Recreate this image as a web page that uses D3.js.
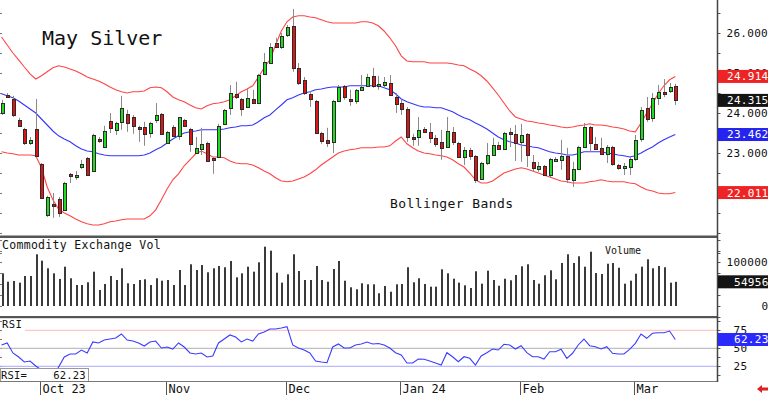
<!DOCTYPE html>
<html><head><meta charset="utf-8">
<script src="https://cdn.jsdelivr.net/npm/d3@7"></script>
<style>
html,body{margin:0;padding:0;background:#fff;overflow:hidden}
svg{display:block}
text{font-family:"DejaVu Sans Mono",monospace;fill:#111}
</style></head><body>
<svg id="c" width="768" height="395"></svg>
<script>
// ---------- DATA ----------
const open = [
24.00,24.45,24.35,23.83,23.60,23.25,23.60,22.73,21.45,21.73,
21.85,21.58,22.48,22.43,22.65,22.88,22.55,23.35,23.15,23.80,
23.58,23.78,23.98,23.90,23.65,23.65,23.50,23.83,23.98,23.25,
23.65,23.43,23.83,23.60,23.00,23.10,23.25,22.88,22.90,23.73,
24.13,24.48,24.35,24.15,24.35,24.25,24.98,25.25,25.75,25.65,
25.95,26.18,25.13,24.83,24.48,24.30,23.50,23.33,23.28,24.30,
24.68,24.35,24.30,24.58,24.68,24.93,24.70,24.70,24.75,24.40,
24.25,24.10,23.40,23.40,23.60,23.53,23.38,23.28,23.15,23.53,
23.25,22.90,23.08,22.93,22.35,22.75,22.95,23.20,23.10,23.53,
23.48,23.28,23.48,22.78,22.60,22.68,22.45,22.83,22.83,22.93,
22.33,22.60,23.15,23.65,23.23,23.13,22.98,23.15,22.70,22.63,
22.65,22.85,23.35,24.13,23.88,24.38,24.53,24.55,24.68];
const high = [
24.33,24.50,24.43,23.88,23.63,23.40,24.35,22.75,21.93,22.00,
21.90,22.28,22.50,22.55,22.83,22.90,23.48,23.40,23.68,24.00,
23.78,24.43,24.08,23.95,23.68,23.78,23.78,24.25,24.00,23.55,
23.70,23.90,23.85,23.63,23.40,23.63,23.28,22.90,23.73,24.10,
24.70,24.78,24.38,24.60,24.58,24.98,25.50,25.75,25.88,26.00,
26.20,26.60,25.25,24.90,24.55,24.33,23.53,23.63,24.33,24.70,
24.70,24.58,24.60,24.95,24.98,25.13,24.93,24.90,24.95,24.50,
24.33,24.15,23.48,23.90,23.65,23.75,23.45,23.58,23.90,23.65,
23.28,23.15,23.13,22.95,22.78,23.25,23.38,23.28,23.53,23.63,
23.70,23.73,23.50,22.95,22.78,22.70,22.88,22.90,23.33,23.13,
22.78,23.18,23.75,23.68,23.40,23.38,23.20,23.18,22.73,22.75,
22.90,23.45,24.15,24.40,24.50,24.70,24.85,24.75,24.73];
const low = [
23.95,24.38,23.90,23.65,23.20,23.20,22.88,21.85,21.40,21.38,
21.40,21.55,22.25,22.33,22.60,22.43,22.55,23.25,23.13,23.50,
23.45,23.58,23.53,23.48,23.28,23.18,23.38,23.75,23.48,23.23,
23.40,23.33,23.65,23.03,23.00,22.95,22.78,22.48,22.88,23.70,
23.95,24.35,23.93,24.13,24.23,24.23,24.95,25.23,25.63,25.60,
25.90,25.03,24.70,24.45,24.15,23.48,23.23,23.15,23.00,24.28,
24.33,24.18,24.23,24.55,24.65,24.63,24.58,24.63,24.43,24.00,
23.95,23.28,23.18,23.18,23.50,23.25,23.15,22.83,23.13,23.20,
22.88,22.70,22.83,22.25,22.33,22.70,22.93,23.08,23.08,23.15,
22.80,22.78,22.65,22.53,22.53,22.43,22.38,22.83,22.58,22.25,
22.15,22.58,23.13,23.03,23.08,22.95,22.75,22.68,22.58,22.45,
22.45,22.80,23.28,23.78,23.78,24.20,24.40,24.50,24.20];
const close = [
24.25,24.40,23.95,23.68,23.25,23.33,22.93,21.88,21.90,21.68,
21.50,22.25,22.45,22.45,22.73,22.45,23.45,23.30,23.55,23.63,
23.75,24.13,23.75,23.68,23.63,23.48,23.75,23.95,23.48,23.53,
23.43,23.90,23.68,23.23,23.13,23.23,22.80,22.83,23.68,24.08,
24.50,24.40,24.10,24.38,24.25,24.95,25.28,25.65,25.65,25.93,
26.15,25.13,24.75,24.50,24.35,23.50,23.30,23.25,24.30,24.65,
24.40,24.33,24.58,24.65,24.90,24.68,24.73,24.78,24.45,24.23,
24.10,23.40,23.38,23.58,23.53,23.38,23.23,23.13,23.55,23.28,
22.90,23.08,22.93,22.33,22.75,22.95,23.20,23.10,23.50,23.48,
23.25,23.45,22.95,22.63,22.68,22.45,22.85,22.85,22.93,22.35,
22.60,23.15,23.65,23.25,23.10,22.98,23.15,22.73,22.63,22.68,
22.85,23.33,24.08,23.85,24.38,24.53,24.50,24.65,24.315];
const bandUpper = [
25.90,25.70,25.50,25.33,25.15,24.98,24.85,24.93,25.03,25.13,
25.18,25.15,25.10,25.05,24.98,24.90,24.85,24.80,24.73,24.65,
24.58,24.53,24.50,24.53,24.53,24.55,24.63,24.65,24.63,24.53,
24.40,24.33,24.28,24.20,24.13,24.10,24.18,24.23,24.25,24.28,
24.33,24.43,24.53,24.60,24.68,24.90,25.13,25.33,25.70,26.05,
26.28,26.40,26.43,26.43,26.40,26.38,26.33,26.28,26.25,26.25,
26.25,26.25,26.25,26.28,26.28,26.25,26.18,26.05,25.88,25.68,
25.43,25.30,25.28,25.28,25.28,25.25,25.25,25.25,25.25,25.23,
25.20,25.18,25.10,25.03,24.93,24.80,24.63,24.45,24.25,24.05,
23.90,23.85,23.80,23.78,23.75,23.73,23.70,23.68,23.65,23.63,
23.65,23.68,23.70,23.73,23.70,23.70,23.68,23.65,23.63,23.60,
23.55,23.53,23.75,24.00,24.23,24.48,24.68,24.83,24.914];
const bandMiddle = [
24.48,24.43,24.38,24.30,24.20,24.10,24.00,23.85,23.70,23.55,
23.43,23.35,23.28,23.18,23.10,23.05,23.03,22.98,22.95,22.93,
22.93,22.93,22.93,22.93,22.93,22.95,23.00,23.08,23.15,23.25,
23.35,23.43,23.50,23.53,23.55,23.58,23.58,23.58,23.58,23.60,
23.63,23.65,23.68,23.68,23.70,23.78,23.88,23.95,24.08,24.20,
24.33,24.38,24.45,24.50,24.53,24.58,24.60,24.63,24.65,24.65,
24.65,24.68,24.68,24.68,24.68,24.68,24.68,24.63,24.58,24.48,
24.35,24.28,24.23,24.18,24.15,24.15,24.13,24.13,24.08,24.03,
23.95,23.88,23.83,23.75,23.68,23.60,23.50,23.40,23.33,23.28,
23.25,23.20,23.18,23.15,23.13,23.08,23.03,23.00,22.98,22.95,
22.95,22.98,23.03,23.03,23.03,23.03,23.00,22.98,22.95,22.93,
22.90,22.93,23.00,23.08,23.15,23.25,23.33,23.40,23.462];
const bandLower = [
23.03,23.00,22.98,22.95,22.95,22.95,22.93,22.63,22.15,21.83,
21.60,21.50,21.43,21.35,21.28,21.23,21.20,21.20,21.23,21.28,
21.30,21.33,21.35,21.35,21.35,21.35,21.43,21.58,21.83,22.10,
22.33,22.48,22.68,22.83,22.98,23.05,22.98,22.90,22.90,22.88,
22.80,22.75,22.73,22.73,22.70,22.63,22.55,22.48,22.38,22.30,
22.28,22.30,22.35,22.40,22.48,22.58,22.70,22.80,22.90,23.00,
23.05,23.08,23.10,23.13,23.13,23.13,23.15,23.15,23.18,23.30,
23.40,23.23,23.13,23.05,23.00,22.98,22.95,22.93,22.90,22.83,
22.73,22.65,22.50,22.33,22.25,22.25,22.30,22.40,22.50,22.55,
22.60,22.63,22.60,22.55,22.50,22.45,22.40,22.35,22.30,22.28,
22.25,22.25,22.25,22.28,22.30,22.33,22.30,22.28,22.28,22.28,
22.25,22.23,22.15,22.08,22.05,22.00,21.98,21.98,22.011];
const volume = [
74300,55200,56800,53000,68200,68200,117500,103000,85700,74300,
61400,89300,63000,47700,47700,53900,78000,36400,50000,68200,
59100,85700,51600,50000,59100,60700,47700,63000,57500,59100,
47700,81800,47700,94800,81800,93200,76600,85700,90900,88000,
102300,65200,74300,89300,78000,99300,134800,125700,75700,53000,
72000,117500,79500,59100,59100,90900,59100,55200,84100,102300,
57500,42500,38000,51600,49300,49300,28900,45500,32500,49300,
50000,88000,53900,63000,50000,43900,43900,83400,74300,62000,
53000,47000,40900,78900,50700,80200,59100,46100,62000,58400,
70500,90200,94800,59100,50700,69800,81100,60700,97700,117500,
97700,113000,89300,123400,75000,72700,96100,97700,87000,50700,
57500,73400,89300,106100,85700,90900,88000,53000,54956];
const rsi = [
54.6,57.4,43.5,37.9,31.0,32.4,25.4,19.9,11.5,8.8,
24.0,37.9,42.1,42.1,47.6,43.5,58.8,57.4,61.5,62.9,
64.3,69.9,61.5,60.1,57.4,53.2,58.8,60.1,50.4,51.8,
49.0,57.4,51.8,43.5,42.1,43.5,37.9,39.3,57.4,62.9,
68.5,65.7,58.8,62.9,60.1,69.9,72.6,76.8,76.8,78.2,
80.0,54.6,50.4,47.6,43.5,32.4,31.0,30.0,51.8,56.0,
50.4,50.4,54.6,56.0,58.8,56.0,56.7,54.6,50.4,43.9,
40.7,29.6,29.6,35.1,34.7,32.4,29.6,26.8,43.9,38.3,
31.4,38.3,36.1,26.8,39.3,43.9,49.0,47.6,55.6,54.6,
49.0,53.6,43.9,38.3,38.3,35.1,45.3,45.3,48.6,36.1,
43.1,54.6,62.9,53.6,52.2,49.0,52.2,43.1,42.1,42.1,
48.6,56.9,69.9,63.9,70.8,71.7,71.7,74.0,62.23];
const monthLabels = ["Oct 23","Nov","Dec","Jan 24","Feb","Mar"];
const monthStartBar = [7,29,50,70,91,111];
const priceTicks = [23,24,25,26];
const volumeTicks = [0,100000];
const rsiTicks = [25,50,75];
const lastPrice = 24.315, lastUpper = 24.914, lastMiddle = 23.462, lastLower = 22.011;
const lastVolume = 54956, lastRsi = 62.23;

// ---------- CHART ----------
const svg = d3.select("#c");
const AX = 717.5;
const N = open.length;
const x = d3.scaleLinear().domain([0, N-1]).range([1.5, 675.3]);
const yP = d3.scaleLinear().domain([22, 26]).range([193, 33]);
const yV = d3.scaleLinear().domain([0, 100000]).range([306, 262]);
const yR = d3.scaleLinear().domain([25, 75]).range([366.3, 330.3]);

const defs = svg.append("defs");
defs.append("clipPath").attr("id","cm").append("rect").attr("x",0).attr("y",0).attr("width",AX).attr("height",235.5);
defs.append("clipPath").attr("id","cv").append("rect").attr("x",0).attr("y",238).attr("width",AX).attr("height",78);
defs.append("clipPath").attr("id","cr").append("rect").attr("x",0).attr("y",318).attr("width",AX).attr("height",63);

svg.append("rect").attr("width",768).attr("height",395).attr("fill","#fff");

// minor ticks (left edge and right axis)
function minorTicks(scale, vals){
  const g = svg.append("g");
  vals.forEach(v=>{
    const yy = Math.round(scale(v))+0.5;
    g.append("line").attr("x1",0).attr("x2",2).attr("y1",yy).attr("y2",yy).attr("stroke","#777");
    g.append("line").attr("x1",AX).attr("x2",AX+3).attr("y1",yy).attr("y2",yy).attr("stroke","#555");
  });
}
minorTicks(yP, d3.range(20.5, 26.9, 0.5));
minorTicks(yV, d3.range(-25000, 150001, 25000));
minorTicks(yR, d3.range(12.5, 90.1, 12.5));

// ---------- MAIN PANEL ----------
const gM = svg.append("g").attr("clip-path","url(#cm)");
const lineP = d3.line().x((d,i)=>x(i)).y(d=>yP(d));
gM.append("path").attr("d", lineP(bandUpper)).attr("fill","none").attr("stroke","#ff4444").attr("stroke-width",1.1);
gM.append("path").attr("d", lineP(bandLower)).attr("fill","none").attr("stroke","#ff4444").attr("stroke-width",1.1);
gM.append("path").attr("d", lineP(bandMiddle)).attr("fill","none").attr("stroke","#3535ff").attr("stroke-width",1.1);

const bars = open.map((o,i)=>({i, o, h:high[i], l:low[i], c:close[i]}));
const cx = d => Math.round(x(d.i));
gM.selectAll(".wick").data(bars).join("line")
  .attr("x1", d=>cx(d)+0.5).attr("x2", d=>cx(d)+0.5)
  .attr("y1", d=>yP(d.h)).attr("y2", d=>yP(d.l))
  .attr("stroke","#8a8a8a").attr("stroke-width",1);
function bodyBox(d){
  let y0 = Math.round(yP(Math.max(d.o,d.c))), y1 = Math.round(yP(Math.min(d.o,d.c)));
  if (y1 - y0 < 2) y1 = y0 + 2;
  return [y0, y1];
}
gM.selectAll(".bo").data(bars).join("rect")
  .attr("x", d=>cx(d)-1).attr("width",4)
  .attr("y", d=>bodyBox(d)[0]).attr("height", d=>bodyBox(d)[1]-bodyBox(d)[0]+1)
  .attr("fill","#2b2b2b");
gM.selectAll(".bi").data(bars).join("rect")
  .attr("x", d=>cx(d)).attr("width",2)
  .attr("y", d=>bodyBox(d)[0]+1).attr("height", d=>Math.max(1,bodyBox(d)[1]-bodyBox(d)[0]-1))
  .attr("fill", d=> d.c >= d.o ? "#1fdc1f" : "#e01414");

svg.append("text").attr("x",42).attr("y",45).attr("font-size",20).text("May Silver");
svg.append("text").attr("x",390).attr("y",208).attr("font-size",13).attr("letter-spacing",0.4).text("Bollinger Bands");

// ---------- VOLUME PANEL ----------
const gV = svg.append("g").attr("clip-path","url(#cv)");
gV.selectAll("rect").data(volume).join("rect")
  .attr("x",(d,i)=>Math.round(x(i))).attr("width",2)
  .attr("y", d=>yV(d)).attr("height", d=>yV(0)-yV(d))
  .attr("fill","#3a3a3a");
svg.append("text").attr("x",2).attr("y",249).attr("font-size",11.5).attr("letter-spacing",0.3).text("Commodity Exchange Vol");
svg.append("text").attr("x",605).attr("y",254).attr("font-size",10).text("Volume");

// ---------- RSI PANEL ----------
const gR = svg.append("g").attr("clip-path","url(#cr)");
gR.append("line").attr("x1",25).attr("x2",AX).attr("y1",yR(75)).attr("y2",yR(75)).attr("stroke","#ffb8b8");
gR.append("line").attr("x1",0).attr("x2",AX).attr("y1",yR(50)).attr("y2",yR(50)).attr("stroke","#b0b0b0");
gR.append("line").attr("x1",0).attr("x2",AX).attr("y1",yR(25)).attr("y2",yR(25)).attr("stroke","#a8a8ff");
gR.append("path").attr("d", d3.line().x((d,i)=>x(i)).y(d=>yR(d))(rsi))
  .attr("fill","none").attr("stroke","#3c3cff").attr("stroke-width",1.1);
svg.append("text").attr("x",2).attr("y",327.5).attr("font-size",10.5).attr("letter-spacing",0.4).text("RSI");
svg.append("rect").attr("x",0.5).attr("y",368.5).attr("width",88).attr("height",13).attr("fill","#fff").attr("stroke","#999");
svg.append("text").attr("x",1).attr("y",378.5).attr("font-size",10.5).attr("letter-spacing",0.2).attr("xml:space","preserve").text("RSI=    " + d3.format(".2f")(lastRsi));

// ---------- FRAME ----------
svg.append("rect").attr("x",0).attr("y",235.5).attr("width",AX).attr("height",2.5).attr("fill","#555");
svg.append("rect").attr("x",0).attr("y",316).attr("width",AX).attr("height",2.2).attr("fill","#555");
svg.append("line").attr("x1",0).attr("x2",AX).attr("y1",381.5).attr("y2",381.5).attr("stroke","#777");
svg.append("line").attr("x1",AX).attr("x2",AX).attr("y1",0).attr("y2",382).attr("stroke","#444").attr("stroke-width",1.5);

// ---------- X AXIS ----------
const gX = svg.append("g");
monthStartBar.forEach((b,k)=>{
  const xx = Math.round(x(b))-0.5;
  gX.append("line").attr("x1",xx).attr("x2",xx).attr("y1",382).attr("y2",395).attr("stroke","#555");
  gX.append("text").attr("x",xx+2).attr("y",393).attr("font-size",12).text(monthLabels[k]);
});

// ---------- RIGHT AXES ----------
const gAP = svg.append("g").attr("transform",`translate(${AX},0)`)
  .call(d3.axisRight(yP).tickValues(priceTicks).tickFormat(d3.format(".3f")).tickSize(0).tickPadding(9));
const gAV = svg.append("g").attr("transform",`translate(${AX},0)`)
  .call(d3.axisRight(yV).tickValues(volumeTicks).tickFormat(d=>d).tickSize(0).tickPadding(9));
const gAR = svg.append("g").attr("transform",`translate(${AX},0)`)
  .call(d3.axisRight(yR).tickValues(rsiTicks).tickFormat(d=>d).tickSize(0).tickPadding(16));
[gAP,gAV,gAR].forEach(g=>{
  g.select(".domain").remove();
  g.selectAll("text").attr("font-family","DejaVu Sans Mono, monospace").attr("font-size",11).attr("letter-spacing",0.3).attr("fill","#111");
});
gAV.selectAll(".tick").filter(d=>d===0).select("text").attr("x",44);

// value boxes
function valBox(yy, txt, bg, tx){
  svg.append("rect").attr("x",AX+0.5).attr("y",yy-6.5).attr("width",60).attr("height",13).attr("fill",bg);
  svg.append("text").attr("x",tx).attr("y",yy).attr("dy","0.36em").attr("font-size",11).attr("letter-spacing",0.3)
    .style("fill","#fff").text(txt);
}
valBox(yP(lastUpper), d3.format(".3f")(lastUpper), "#ee2424", 727);
valBox(yP(lastPrice), d3.format(".3f")(lastPrice), "#141414", 727);
valBox(yP(lastMiddle), d3.format(".3f")(lastMiddle), "#2424ee", 727);
valBox(yP(lastLower), d3.format(".3f")(lastLower), "#ee2424", 727);
valBox(yV(lastVolume), String(lastVolume), "#141414", 734);
valBox(yR(lastRsi), d3.format(".2f")(lastRsi), "#2a2aff", 734);

// red arrow marker bottom right
svg.append("path").attr("d","M757,389 L762,385 L762,387.5 L768,387.5 L768,390.5 L762,390.5 L762,393 Z").attr("fill","#e02020");
</script>
</body></html>
